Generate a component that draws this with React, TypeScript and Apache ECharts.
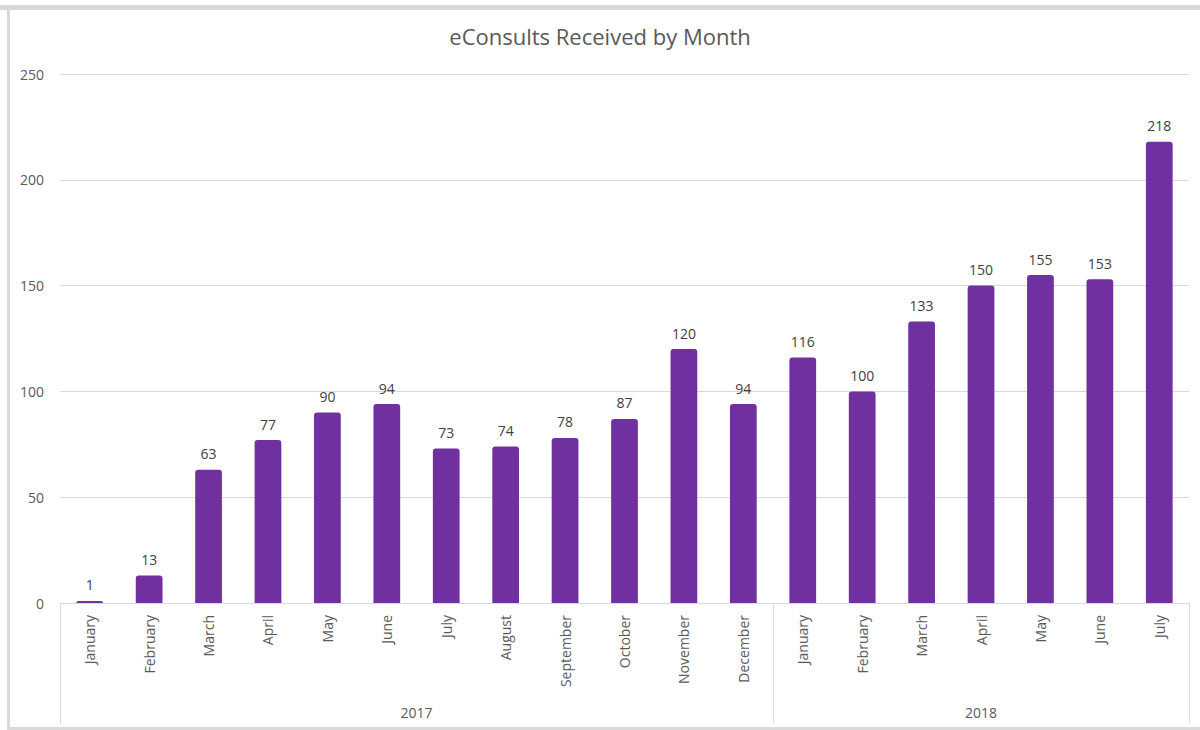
import React, { useEffect, useRef } from "react";
import * as echarts from "echarts";

const months = [
  "January", "February", "March", "April", "May", "June", "July", "August",
  "September", "October", "November", "December",
  "January", "February", "March", "April", "May", "June", "July",
];
const values = [1, 13, 63, 77, 90, 94, 73, 74, 78, 87, 120, 94, 116, 100, 133, 150, 155, 153, 218];
const years = ["2017", "2018"];
const yearCounts = [12, 7];
const yTicks = [0, 50, 100, 150, 200, 250];

export default function App() {
  const ref = useRef<HTMLDivElement>(null);
  useEffect(() => {
    if (!ref.current) return;
    const chart = echarts.init(ref.current, null, { renderer: "svg" });
    const bounds: number[] = [0];
    const centers: number[] = [];
    let acc = 0;
    yearCounts.forEach((c) => {
      centers.push(acc + c / 2);
      acc += c;
      bounds.push(acc);
    });
    const font = "'Open Sans', sans-serif";
    chart.setOption({
      animation: false,
      backgroundColor: "#ffffff",
      title: {
        text: "eConsults Received by Month",
        left: "center",
        top: 20,
        textStyle: { fontFamily: font, fontSize: 22, fontWeight: "normal", color: "#595959" },
      },
      grid: { left: 60, right: 11, top: 74, bottom: 127, containLabel: false },
      xAxis: [
        {
          type: "category",
          data: months,
          position: "bottom",
          axisLine: { show: true, lineStyle: { color: "#d9d9d9", width: 1 } },
          axisTick: { show: false },
          axisLabel: {
            rotate: 90,
            margin: 12,
            interval: 0,
            fontFamily: font,
            fontSize: 14,
            color: "#595959",
          },
        },
        {
          type: "value",
          min: 0,
          max: acc,
          position: "bottom",
          axisLine: { show: false },
          splitLine: { show: false },
          axisTick: {
            show: true,
            customValues: bounds,
            length: 121,
            lineStyle: { color: "#d9d9d9", width: 1 },
          },
          axisLabel: {
            show: true,
            customValues: centers,
            margin: 102,
            fontFamily: font,
            fontSize: 14,
            color: "#595959",
            formatter: (v: number) => {
              const i = centers.findIndex((c) => Math.abs(c - v) < 1e-6);
              return i >= 0 ? years[i] : "";
            },
          },
        },
      ],
      yAxis: {
        type: "value",
        min: yTicks[0],
        max: yTicks[yTicks.length - 1],
        interval: yTicks[1] - yTicks[0],
        axisLine: { show: false },
        axisTick: { show: false },
        splitLine: { lineStyle: { color: "#d9d9d9", width: 1 } },
        axisLabel: { margin: 16, fontFamily: font, fontSize: 14, color: "#595959" },
      },
      series: [
        {
          type: "bar",
          xAxisIndex: 0,
          data: values,
          barWidth: "45%",
          itemStyle: { color: "#7030A0", borderRadius: [3, 3, 0, 0] },
          label: {
            show: true,
            position: "top",
            distance: 9,
            fontFamily: font,
            fontSize: 14,
            color: "#404040",
          },
        },
      ],
      graphic: [
        { type: "rect", shape: { x: 0, y: 5, width: 1200, height: 5 }, style: { fill: "#d9d9d9" }, silent: true },
        { type: "rect", shape: { x: 7, y: 5, width: 3, height: 725 }, style: { fill: "#d9d9d9" }, silent: true },
        { type: "rect", shape: { x: 7, y: 727, width: 1193, height: 3 }, style: { fill: "#d9d9d9" }, silent: true },
      ],
    });
    return () => chart.dispose();
  }, []);
  return (
    <div
      ref={ref}
      style={{ position: "fixed", left: 0, top: 0, width: 1200, height: 730 }}
    />
  );
}
